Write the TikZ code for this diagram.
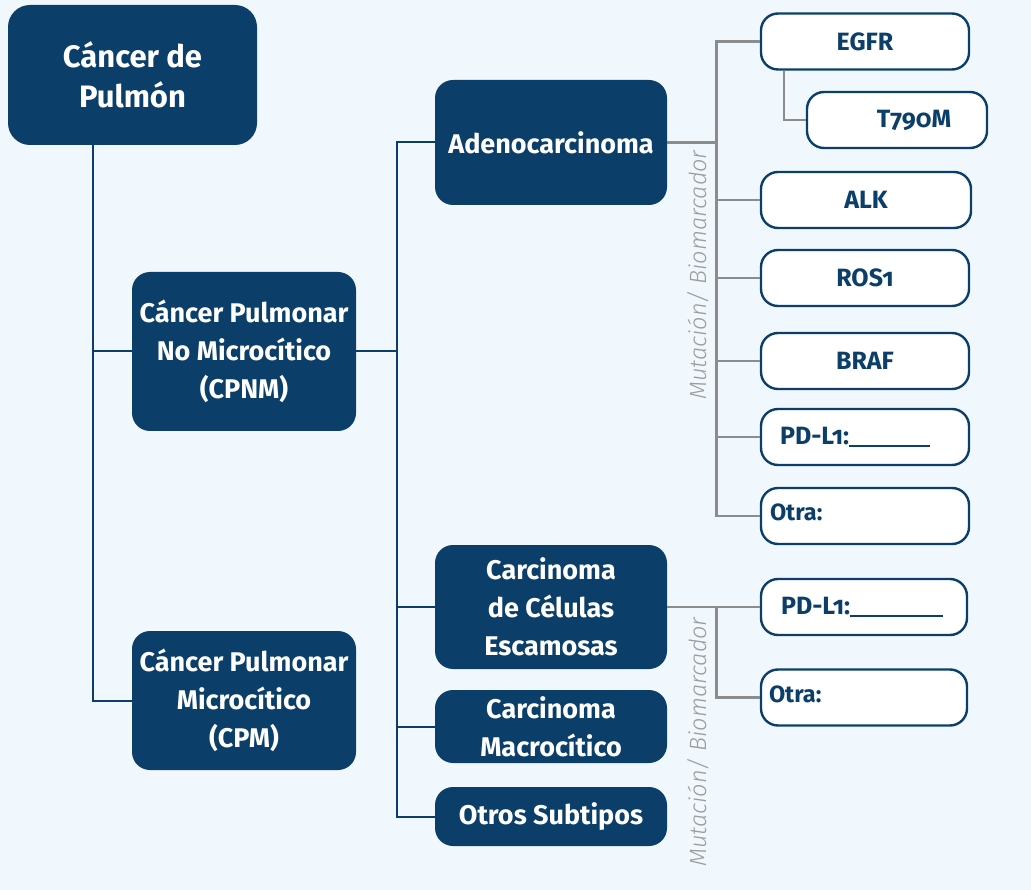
\documentclass[tikz,border=0pt]{standalone}
\usepackage{fontspec}
\setmainfont{Fira Sans}[Numbers=OldStyle]
\newfontfamily\notefont{Fira Sans Light}[ItalicFont={Fira Sans Light Italic}]
\usetikzlibrary{positioning,calc}
\definecolor{navy}{HTML}{0B3F6A}
\definecolor{pagebg}{HTML}{F1F8FD}
\definecolor{linegrey}{HTML}{8C8C8C}
\definecolor{notegrey}{HTML}{9B9B9B}

\begin{document}
\begin{tikzpicture}[x=1pt, y=-1pt,
    topic/.style={rectangle, rounded corners=18pt, fill=navy, text=white, inner sep=0pt, align=center, font=\fontsize{27}{38}\selectfont\bfseries},
    marker/.style={rectangle, rounded corners=17pt, draw=navy, line width=2.4pt, fill=white, text=navy, inner sep=0pt, minimum width=208pt, minimum height=56pt, font=\fontsize{25}{28}\selectfont\bfseries},
    tree/.style={draw=navy, line width=2pt},
    bio/.style={draw=linegrey, line width=2.6pt},
    sidenote/.style={rotate=90, text=notegrey, font=\fontsize{23.5}{26}\selectfont\notefont\itshape}
]
    \fill[pagebg] (0,0) rectangle (1031,890);
    \useasboundingbox (0,0) rectangle (1031,890);

    % Main topics
    \node[topic, minimum width=249pt, minimum height=140pt, rounded corners=22pt, font=\fontsize{31}{40}\selectfont\bfseries] (root) at (132.5,75) {Cáncer de\\Pulmón};
    \node[topic, minimum width=224pt, minimum height=159pt] (cpnm) at (244,351.5) {Cáncer Pulmonar\\No Microcítico\\(CPNM)};
    \node[topic, minimum width=224pt, minimum height=139pt] (cpm) at (244,700.5) {Cáncer Pulmonar\\Microcítico\\(CPM)};

    % Subtypes
    \node[topic, minimum width=232pt, minimum height=125pt] (adeno) at (551,142.5) {Adenocarcinoma};
    \node[topic, minimum width=232pt, minimum height=124pt] (escam) at (551,607) {Carcinoma\\de Células\\Escamosas};
    \node[topic, minimum width=232pt, minimum height=73pt] (macro) at (551,726.5) {Carcinoma\\Macrocítico};
    \node[topic, minimum width=232pt, minimum height=59pt] (otros) at (551,816.5) {Otros Subtipos};

    % Markers
    \node[marker] (egfr) at (865,41.5) {EGFR};
    \node[marker, minimum width=180pt] (t790) at (897,120) {\hspace*{34pt}T790M};
    \node[marker, minimum width=210pt] (alk) at (866,200) {ALK};
    \node[marker] (ros) at (865,278) {ROS1};
    \node[marker] (braf) at (865,361) {BRAF};
    \node[marker, text width=170pt, align=left] (pdla) at (865,437) {PD-L1:\rule[-2pt]{81pt}{2pt}};
    \node[marker, text width=190pt, align=left, font=\fontsize{23.5}{26}\selectfont\bfseries] (otraa) at (865,516) {\raisebox{7pt}{Otra:}};
    \node[marker, minimum width=206pt, text width=166pt, align=left] (pdlb) at (864,607) {PD-L1:\rule[-2pt]{93pt}{2pt}};
    \node[marker, minimum width=206pt, text width=190pt, align=left, font=\fontsize{23.5}{26}\selectfont\bfseries] (otrab) at (864,697.5) {\raisebox{7pt}{Otra:}};

    \node[sidenote] (notea) at (698,275) {Mutación/ Biomarcador};
    \node[sidenote] (noteb) at (698,742) {Mutación/ Biomarcador};

    % Tree
    \coordinate (rt) at ([xshift=-39.5pt]root.south);
    \draw[tree] (rt) |- (cpm.west);
    \draw[tree] (rt |- cpnm.west) -- (cpnm.west);
    \coordinate (sp) at ([xshift=41pt]cpnm.east);
    \draw[tree] (cpnm.east) -- (sp);
    \draw[tree] (adeno.west) -| (sp |- otros.west) -- (otros.west);
    \draw[tree] (sp |- escam.west) -- (escam.west);
    \draw[tree] (sp |- macro.west) -- (macro.west);

    % Biomarkers
    \coordinate (ba) at ([xshift=49pt]adeno.east);
    \draw[bio] (adeno.east) -- (ba);
    \draw[bio] (egfr.west) -| (ba |- otraa.west) -- (otraa.west);
    \foreach \m in {alk,ros,braf,pdla}
        \draw[bio] (ba |- \m.west) -- (\m.west);
    \draw[bio] ([xshift=-81pt]egfr.south) |- (t790.west);

    \coordinate (bb) at ([xshift=49pt]escam.east);
    \draw[bio] (escam.east) -- (pdlb.west);
    \draw[bio] (bb) |- (otrab.west);
\end{tikzpicture}
\end{document}
